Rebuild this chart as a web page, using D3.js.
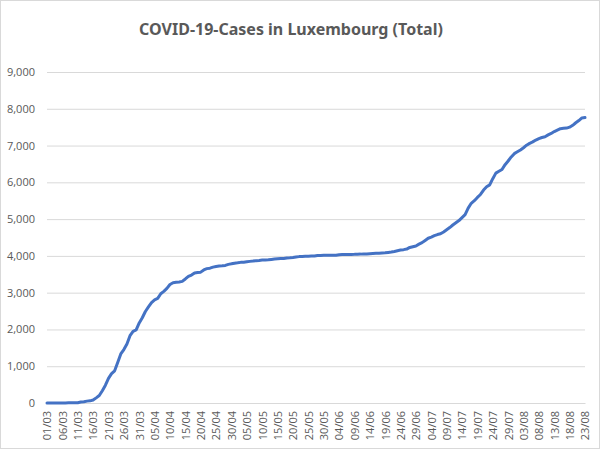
<!DOCTYPE html>
<html>
<head>
<meta charset="utf-8">
<script src="https://cdn.jsdelivr.net/npm/d3@7"></script>
<style>
  body { margin: 0; background: #fff; }
</style>
</head>
<body>
<div id="chart"></div>
<script>
/* global d3*/

//---------------------Data (one value per day)

const startDay = "2020-03-01"

const casesMarch = [1, 1, 1, 1, 2, 3, 3, 4, 5, 5, 7, 26, 34, 51, 59, 81, 140, 203, 335, 484,
  670, 798, 875, 1099, 1333, 1453, 1605, 1831, 1950, 1988, 2178]
const casesApril = [2319, 2487, 2612, 2729, 2804, 2843, 2970, 3034, 3115, 3223, 3270, 3281, 3292, 3307, 3373,
  3444, 3480, 3537, 3550, 3558, 3618, 3654, 3665, 3695, 3711, 3723, 3729, 3741, 3769, 3784]
const casesMay = [3802, 3812, 3824, 3828, 3840, 3851, 3859, 3871, 3877, 3886, 3888, 3894, 3904, 3915, 3923,
  3930, 3930, 3945, 3947, 3958, 3971, 3980, 3981, 3990, 3993, 3995, 3995, 4008, 4012, 4016, 4018]
const casesJune = [4018, 4019, 4020, 4032, 4035, 4039, 4040, 4040, 4042, 4046, 4048, 4052, 4054, 4060, 4066,
  4070, 4075, 4080, 4085, 4095, 4105, 4120, 4140, 4160, 4170, 4185, 4230, 4250, 4270, 4320]
const casesJuly = [4360, 4420, 4480, 4510, 4550, 4580, 4600, 4650, 4710, 4770, 4840, 4900, 4960, 5040, 5120,
  5300, 5430, 5500, 5590, 5670, 5790, 5880, 5930, 6100, 6250, 6300, 6350, 6480, 6580, 6690, 6780]
const casesAugust = [6830, 6880, 6940, 7010, 7060, 7100, 7150, 7190, 7220, 7240, 7290, 7330, 7380, 7420, 7460,
  7470, 7475, 7500, 7550, 7620, 7680, 7750, 7760]

const xTickLabels = ["01/03", "06/03", "11/03", "16/03", "21/03", "26/03", "31/03", "05/04", "10/04", "15/04",
  "20/04", "25/04", "30/04", "05/05", "10/05", "15/05", "20/05", "25/05", "30/05", "04/06", "09/06", "14/06",
  "19/06", "24/06", "29/06", "04/07", "09/07", "14/07", "19/07", "24/07", "29/07", "03/08", "08/08", "13/08",
  "18/08", "23/08"]
const yTicks = [0, 1000, 2000, 3000, 4000, 5000, 6000, 7000, 8000, 9000]

const chartTitle = "COVID-19-Cases in Luxembourg (Total)"

async function draw () {

//---------------------Prepare Data

const cases = [].concat(casesMarch, casesApril, casesMay, casesJune, casesJuly, casesAugust)
const parseDay = d3.timeParse("%Y-%m-%d")
const first = parseDay(startDay)

const dataset = cases.map((num, i) => ({ date: d3.timeDay.offset(first, i), num: num }))

const parseLabel = d3.timeParse("%d/%m/%Y")
const tickDates = xTickLabels.map(l => parseLabel(l + "/2020"))

const xAccessor = d => d.date
const yAccessor = d => d.num

//---------------------Dimensions

let dimensions = {
    width: 600,
    height: 449,
    leftMargin: 47,
    rightMargin: 15,
    topMargin: 72,
    bottomMargin: 46
}
dimensions.ctrWidth = dimensions.width - dimensions.leftMargin - dimensions.rightMargin
dimensions.ctrHeight = dimensions.height - dimensions.topMargin - dimensions.bottomMargin

const svg = d3.select("#chart")
    .append("svg")
    .attr("width", dimensions.width)
    .attr("height", dimensions.height)

// chart area border
svg.append("rect")
    .attr("x", 0.5)
    .attr("y", 0.5)
    .attr("width", dimensions.width - 1)
    .attr("height", dimensions.height - 1)
    .attr("fill", "#fff")
    .attr("stroke", "#d9d9d9")

const ctr = svg.append("g")
    .attr("transform", `translate(${dimensions.leftMargin},${dimensions.topMargin})`)

//---------------------Scales

const xScale = d3.scaleTime()
    .domain(d3.extent(dataset, xAccessor))
    .range([0, dimensions.ctrWidth])

const yScale = d3.scaleLinear()
    .domain([0, 9000])
    .range([dimensions.ctrHeight, 0])

//---------------------Gridlines + y axis

const yAxis = d3.axisLeft(yScale)
    .tickValues(yTicks)
    .tickSize(-dimensions.ctrWidth)
    .tickPadding(12)
    .tickFormat(d3.format(","))

const yAxisGroup = ctr.append("g")
    .call(yAxis)
yAxisGroup.select(".domain").remove()
yAxisGroup.selectAll("line")
    .attr("stroke", "#d9d9d9")
yAxisGroup.selectAll("text")
    .attr("fill", "#595959")
    .style("font-family", "Open Sans")
    .style("font-size", "11px")

//---------------------x axis

const xAxis = d3.axisBottom(xScale)
    .tickValues(tickDates)
    .tickSize(0)
    .tickFormat(d3.timeFormat("%d/%m"))

const xAxisGroup = ctr.append("g")
    .attr("transform", `translate(0,${dimensions.ctrHeight})`)
    .call(xAxis)
xAxisGroup.select(".domain")
    .attr("stroke", "#d9d9d9")
xAxisGroup.selectAll("text")
    .attr("transform", "rotate(-90)")
    .attr("text-anchor", "end")
    .attr("x", -8)
    .attr("y", 0)
    .attr("dy", "0.35em")
    .attr("fill", "#595959")
    .style("font-family", "Open Sans")
    .style("font-size", "11px")

//---------------------Line

const lineGenerator = d3.line()
    .x(d => xScale(xAccessor(d)))
    .y(d => yScale(yAccessor(d)))

ctr.append("path")
    .datum(dataset)
    .attr("d", lineGenerator)
    .attr("fill", "none")
    .attr("stroke", "#4472c4")
    .attr("stroke-width", 3)
    .attr("stroke-linejoin", "round")
    .attr("stroke-linecap", "round")

//---------------------Title

svg.append("text")
    .attr("x", 291)
    .attr("y", 35)
    .attr("text-anchor", "middle")
    .text(chartTitle)
    .attr("fill", "#595959")
    .style("font-family", "Noto Sans")
    .style("font-weight", "bold")
    .style("font-size", "16px")

}

draw()
</script>
</body>
</html>
